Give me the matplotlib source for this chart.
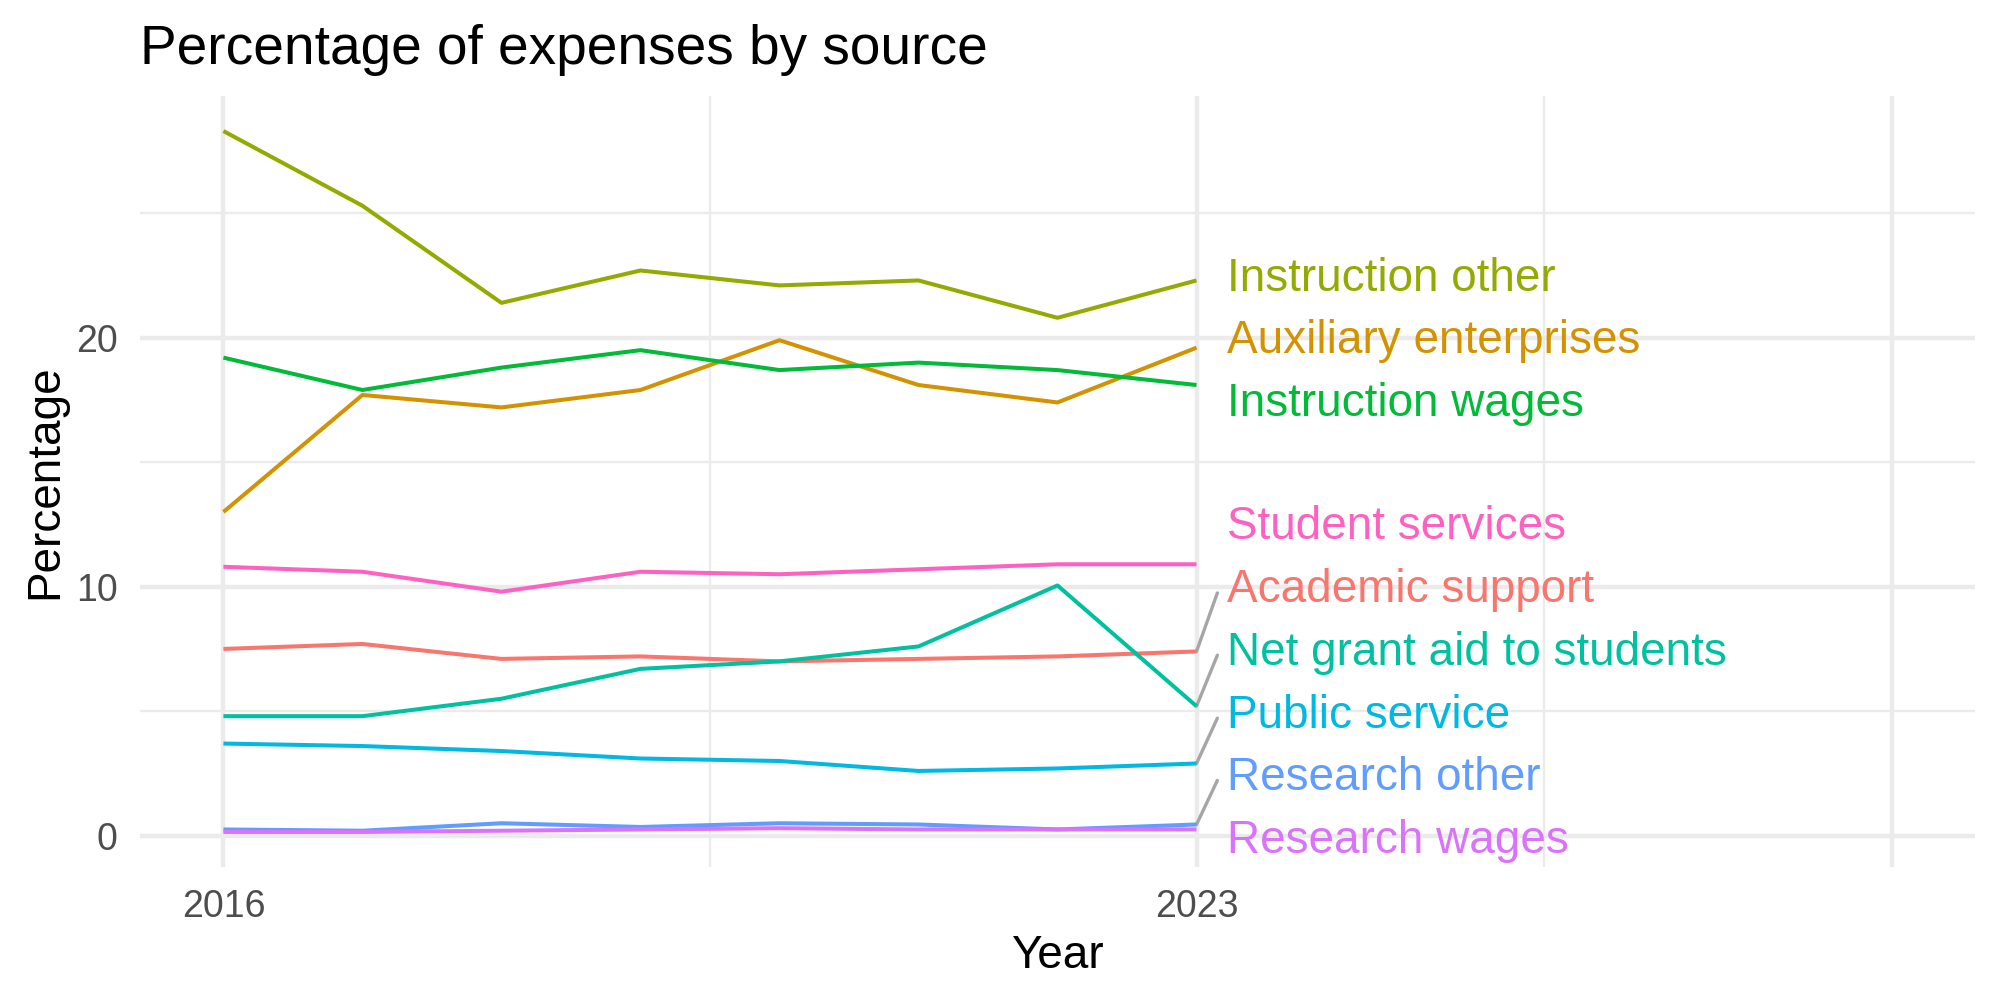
"""Line chart: percentage of expenses by source, with end-of-line labels."""

import matplotlib
matplotlib.use("Agg")
import matplotlib.pyplot as plt
from matplotlib.ticker import FixedLocator

plt.rcParams['font.family'] = ['Liberation Sans', 'DejaVu Sans']

# Data
years = [2016, 2017, 2018, 2019, 2020, 2021, 2022, 2023]

academic_support = [7.5, 7.7, 7.1, 7.2, 7.0, 7.1, 7.2, 7.4]
auxiliary_enterprises = [13.0, 17.7, 17.2, 17.9, 19.9, 18.1, 17.4, 19.6]
instruction_other = [28.3, 25.3, 21.4, 22.7, 22.1, 22.3, 20.8, 22.3]
instruction_wages = [19.2, 17.9, 18.8, 19.5, 18.7, 19.0, 18.7, 18.1]
net_grant_aid = [4.8, 4.8, 5.5, 6.7, 7.0, 7.6, 10.05, 5.2]
public_service = [3.7, 3.6, 3.4, 3.1, 3.0, 2.6, 2.7, 2.9]
research_other = [0.25, 0.2, 0.5, 0.35, 0.5, 0.45, 0.25, 0.45]
research_wages = [0.15, 0.15, 0.2, 0.25, 0.3, 0.25, 0.25, 0.25]
student_services = [10.8, 10.6, 9.8, 10.6, 10.5, 10.7, 10.9, 10.9]

categories = ["Academic support", "Auxiliary enterprises", "Instruction other",
              "Instruction wages", "Net grant aid to students", "Public service",
              "Research other", "Research wages", "Student services"]
series = [academic_support, auxiliary_enterprises, instruction_other,
          instruction_wages, net_grant_aid, public_service,
          research_other, research_wages, student_services]

# ggplot default hue palette for 9 groups
colors = ["#F8766D", "#D39200", "#93AA00", "#00BA38", "#00C19F",
          "#00B9E3", "#619CFF", "#DB72FB", "#FF61C3"]

# repelled label positions (y) and whether a connector segment is drawn
label_y = [10.05, 20.05, 22.55, 17.55, 7.55, 5.02, 2.52, 0.0, 12.6]
has_segment = [True, False, False, False, True, True, True, False, False]

fig = plt.figure(figsize=(10, 5), dpi=200)
ax = fig.add_axes([140 / 2000, 1 - 867 / 1000, 1835 / 2000, 771 / 1000])

for name, vals, col in zip(categories, series, colors):
    ax.plot(years, vals, color=col, lw=1.45, solid_capstyle='butt', zorder=3)

x_end = years[-1]
for name, vals, col, ly, seg in zip(categories, series, colors, label_y, has_segment):
    if seg:
        ax.plot([x_end, x_end + 0.15], [vals[-1], ly - 0.3],
                color='#A6A6A6', lw=1.2, zorder=2, solid_capstyle='round')
    ax.text(x_end + 0.22, ly - 0.2, name, color=col, fontsize=16.5,
            ha='left', va='center', zorder=4)

# axes limits and grid, theme_minimal style
xmin, xmax = 2016, 2028
ymin, ymax = min(min(s) for s in series), max(max(s) for s in series)
xpad = 0.05 * (xmax - xmin)
ypad = 0.05 * (ymax - ymin)
ax.set_xlim(xmin - xpad, xmax + xpad)
ax.set_ylim(ymin - ypad, ymax + ypad)

ax.xaxis.set_major_locator(FixedLocator([2016, 2023, 2028]))
ax.xaxis.set_minor_locator(FixedLocator([2019.5, 2025.5]))
ax.set_xticklabels(["2016", "2023", ""])
ax.yaxis.set_major_locator(FixedLocator([0, 10, 20]))
ax.yaxis.set_minor_locator(FixedLocator([5, 15, 25]))

ax.grid(which='major', color='#EBEBEB', lw=1.6, zorder=0)
ax.grid(which='minor', color='#EBEBEB', lw=0.85, zorder=0)
ax.set_axisbelow(True)
for sp in ax.spines.values():
    sp.set_visible(False)
ax.tick_params(which='both', length=0)
ax.tick_params(axis='both', labelsize=13.5, colors='#4D4D4D', pad=8)

ax.set_xlabel("Year", fontsize=16.5, labelpad=3)
ax.set_ylabel("Percentage", fontsize=16.5, labelpad=3)
fig.text(140 / 2000, 1 - 64 / 1000, "Percentage of expenses by source",
         fontsize=19.8, ha='left', va='baseline')

fig.savefig("out.png", dpi=200, facecolor='white')
